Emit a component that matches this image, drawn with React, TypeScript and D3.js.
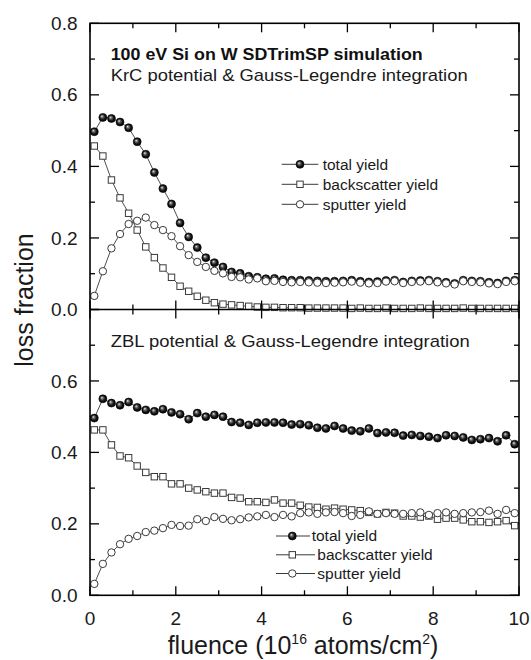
import React from "react";
import * as d3 from "d3";

// Fluence grid (10^16 atoms/cm^2)
const FLUENCE = [
  0.1, 0.3, 0.5, 0.7, 0.9, 1.1, 1.3, 1.5, 1.7, 1.9,
  2.1, 2.3, 2.5, 2.7, 2.9, 3.1, 3.3, 3.5, 3.7, 3.9,
  4.1, 4.3, 4.5, 4.7, 4.9, 5.1, 5.3, 5.5, 5.7, 5.9,
  6.1, 6.3, 6.5, 6.7, 6.9, 7.1, 7.3, 7.5, 7.7, 7.9,
  8.1, 8.3, 8.5, 8.7, 8.9, 9.1, 9.3, 9.5, 9.7, 9.9,
];

// KrC potential
const KRC_TOTAL = [
  0.497, 0.537, 0.534, 0.524, 0.508, 0.469, 0.434, 0.383, 0.338, 0.295,
  0.242, 0.203, 0.173, 0.145, 0.131, 0.119, 0.105, 0.101, 0.093, 0.090,
  0.086, 0.087, 0.083, 0.082, 0.082, 0.081, 0.080, 0.079, 0.079, 0.080,
  0.082, 0.079, 0.077, 0.078, 0.081, 0.082, 0.077, 0.080, 0.081, 0.082,
  0.079, 0.076, 0.073, 0.082, 0.080, 0.079, 0.076, 0.074, 0.080, 0.082,
];
const KRC_BACK = [
  0.457, 0.429, 0.362, 0.312, 0.269, 0.222, 0.175, 0.145, 0.116, 0.090,
  0.065, 0.051, 0.037, 0.026, 0.019, 0.015, 0.013, 0.011, 0.009, 0.007,
  0.006, 0.006, 0.005, 0.005, 0.005, 0.004, 0.004, 0.004, 0.004, 0.004,
  0.003, 0.004, 0.003, 0.003, 0.004, 0.003, 0.003, 0.003, 0.004, 0.003,
  0.003, 0.003, 0.003, 0.004, 0.003, 0.003, 0.003, 0.003, 0.003, 0.003,
];
const KRC_SPUT = [
  0.038, 0.107, 0.171, 0.211, 0.239, 0.248, 0.257, 0.236, 0.222, 0.205,
  0.177, 0.152, 0.133, 0.119, 0.108, 0.101, 0.091, 0.090, 0.084, 0.087,
  0.079, 0.080, 0.077, 0.076, 0.077, 0.076, 0.075, 0.074, 0.075, 0.076,
  0.078, 0.075, 0.073, 0.074, 0.078, 0.079, 0.074, 0.077, 0.078, 0.079,
  0.076, 0.073, 0.070, 0.079, 0.077, 0.076, 0.073, 0.071, 0.077, 0.079,
];

// ZBL potential
const ZBL_TOTAL = [
  0.496, 0.550, 0.538, 0.532, 0.541, 0.526, 0.519, 0.515, 0.521, 0.512,
  0.507, 0.493, 0.510, 0.500, 0.505, 0.500, 0.485, 0.483, 0.477, 0.483,
  0.484, 0.484, 0.483, 0.478, 0.479, 0.476, 0.469, 0.467, 0.474, 0.467,
  0.461, 0.459, 0.467, 0.454, 0.456, 0.455, 0.447, 0.449, 0.446, 0.444,
  0.440, 0.448, 0.446, 0.442, 0.435, 0.437, 0.440, 0.431, 0.448, 0.423,
];
const ZBL_BACK = [
  0.463, 0.463, 0.421, 0.390, 0.385, 0.362, 0.344, 0.332, 0.332, 0.312,
  0.312, 0.300, 0.295, 0.290, 0.286, 0.286, 0.274, 0.272, 0.262, 0.262,
  0.260, 0.267, 0.258, 0.258, 0.252, 0.247, 0.246, 0.241, 0.244, 0.241,
  0.239, 0.237, 0.232, 0.228, 0.232, 0.230, 0.222, 0.222, 0.219, 0.222,
  0.213, 0.216, 0.216, 0.211, 0.206, 0.206, 0.204, 0.206, 0.209, 0.195,
];
const ZBL_SPUT = [
  0.032, 0.088, 0.120, 0.143, 0.158, 0.166, 0.177, 0.181, 0.188, 0.197,
  0.194, 0.195, 0.213, 0.208, 0.219, 0.214, 0.210, 0.213, 0.218, 0.221,
  0.225, 0.219, 0.225, 0.221, 0.230, 0.232, 0.228, 0.232, 0.233, 0.230,
  0.222, 0.225, 0.235, 0.228, 0.230, 0.228, 0.228, 0.230, 0.232, 0.225,
  0.230, 0.232, 0.228, 0.230, 0.232, 0.233, 0.237, 0.228, 0.239, 0.230,
];

const X_TICKS = [0, 2, 4, 6, 8, 10];
const X_MINOR = [1, 3, 5, 7, 9];
const Y_TICKS_TOP = [0, 0.2, 0.4, 0.6, 0.8];
const Y_TICKS_BOTTOM = [0, 0.2, 0.4, 0.6];
const Y_MINOR = [0.1, 0.3, 0.5, 0.7];
const Y_MAJOR_ALL = [0, 0.2, 0.4, 0.6, 0.8];

const SERIES_NAMES = ["total yield", "backscatter yield", "sputter yield"];

const W = 531;
const H = 660;
const LEFT = 90;
const RIGHT = 519;
const TOP = 23.3;
const MID = 309.5;
const BOTTOM = 595.3;

const FONT = "'Liberation Sans', Arial, Helvetica, sans-serif";
const LINE = "#3a3a3a";
const MAJ = 9;
const MIN = 5;

const x = d3.scaleLinear().domain([0, 10]).range([LEFT, RIGHT]);
const yTop = d3.scaleLinear().domain([0, 0.8]).range([MID, TOP]);
const yBot = d3.scaleLinear().domain([0, 0.8]).range([BOTTOM, MID]);

type Kind = "ball" | "square" | "circle";

function Marker({ kind, cx, cy }: { kind: Kind; cx: number; cy: number }) {
  if (kind === "ball")
    return <circle cx={cx} cy={cy} r={4} fill="url(#ball)" stroke="#000" strokeWidth={0.6} />;
  if (kind === "square")
    return (
      <rect x={cx - 3.2} y={cy - 3.2} width={6.4} height={6.4} fill="#fff" stroke={LINE} strokeWidth={1} />
    );
  return <circle cx={cx} cy={cy} r={3.7} fill="#fff" stroke={LINE} strokeWidth={1} />;
}

function Series({ values, y, kind }: { values: number[]; y: d3.ScaleLinear<number, number>; kind: Kind }) {
  const pts: [number, number][] = values.map((v, i) => [x(FLUENCE[i]), y(v)]);
  const path = d3.line()(pts) ?? "";
  return (
    <g>
      <path d={path} fill="none" stroke={LINE} strokeWidth={0.9} />
      {pts.map(([px, py], i) => (
        <Marker key={i} kind={kind} cx={px} cy={py} />
      ))}
    </g>
  );
}

function Panel({
  y,
  top,
  bottom,
  labels,
  series,
}: {
  y: d3.ScaleLinear<number, number>;
  top: number;
  bottom: number;
  labels: number[];
  series: { values: number[]; kind: Kind }[];
}) {
  return (
    <g>
      {/* x ticks on top and bottom edges, pointing inward */}
      {X_TICKS.map((t) => (
        <g key={"xm" + t}>
          <line x1={x(t)} x2={x(t)} y1={bottom} y2={bottom - MAJ} stroke="#000" strokeWidth={1.3} />
          <line x1={x(t)} x2={x(t)} y1={top} y2={top + MAJ} stroke="#000" strokeWidth={1.3} />
        </g>
      ))}
      {X_MINOR.map((t) => (
        <g key={"xn" + t}>
          <line x1={x(t)} x2={x(t)} y1={bottom} y2={bottom - MIN} stroke="#000" strokeWidth={1.3} />
          <line x1={x(t)} x2={x(t)} y1={top} y2={top + MIN} stroke="#000" strokeWidth={1.3} />
        </g>
      ))}
      {/* y ticks on left and right edges */}
      {Y_MAJOR_ALL.map((t) => (
        <g key={"ym" + t}>
          <line x1={LEFT} x2={LEFT + MAJ} y1={y(t)} y2={y(t)} stroke="#000" strokeWidth={1.3} />
          <line x1={RIGHT} x2={RIGHT - MAJ} y1={y(t)} y2={y(t)} stroke="#000" strokeWidth={1.3} />
        </g>
      ))}
      {Y_MINOR.map((t) => (
        <g key={"yn" + t}>
          <line x1={LEFT} x2={LEFT + MIN} y1={y(t)} y2={y(t)} stroke="#000" strokeWidth={1.3} />
          <line x1={RIGHT} x2={RIGHT - MIN} y1={y(t)} y2={y(t)} stroke="#000" strokeWidth={1.3} />
        </g>
      ))}
      {labels.map((t) => (
        <text
          key={"yl" + t}
          x={77.5}
          y={y(t) + 6.6}
          textAnchor="end"
          fontSize={19}
          fontFamily={FONT}
          fill="#1a1a1a"
        >
          {t.toFixed(1)}
        </text>
      ))}
      {series.map((s, i) => (
        <Series key={i} values={s.values} y={y} kind={s.kind} />
      ))}
    </g>
  );
}

function Legend({
  cy,
  lineL,
  mark,
  lineR,
  textX,
}: {
  cy: number[];
  lineL: number;
  mark: number;
  lineR: number[];
  textX: number[];
}) {
  const kinds: Kind[] = ["ball", "square", "circle"];
  return (
    <g>
      {SERIES_NAMES.map((name, i) => (
        <g key={name}>
          <line x1={lineL} x2={lineR[i]} y1={cy[i]} y2={cy[i]} stroke={LINE} strokeWidth={1} />
          <Marker kind={kinds[i]} cx={mark} cy={cy[i]} />
          <text x={textX[i]} y={cy[i] + 5.4} fontSize={15.5} fontFamily={FONT} fill="#1a1a1a">
            {name}
          </text>
        </g>
      ))}
    </g>
  );
}

export default function App() {
  return (
    <svg
      width={W}
      height={H}
      viewBox={`0 0 ${W} ${H}`}
      style={{ position: "absolute", left: 0, top: 0, background: "#fff" }}
    >
      <defs>
        <radialGradient id="ball" cx="0.5" cy="0.5" r="0.55" fx="0.36" fy="0.34">
          <stop offset="0" stopColor="#f2f2f2" />
          <stop offset="0.28" stopColor="#6a6a6a" />
          <stop offset="0.62" stopColor="#151515" />
          <stop offset="1" stopColor="#000" />
        </radialGradient>
      </defs>
      <rect width={W} height={H} fill="#fff" />

      <Panel
        y={yTop}
        top={TOP}
        bottom={MID}
        labels={Y_TICKS_TOP}
        series={[
          { values: KRC_TOTAL, kind: "ball" },
          { values: KRC_BACK, kind: "square" },
          { values: KRC_SPUT, kind: "circle" },
        ]}
      />
      <Panel
        y={yBot}
        top={MID}
        bottom={BOTTOM}
        labels={Y_TICKS_BOTTOM}
        series={[
          { values: ZBL_TOTAL, kind: "ball" },
          { values: ZBL_BACK, kind: "square" },
          { values: ZBL_SPUT, kind: "circle" },
        ]}
      />

      {/* frame */}
      <rect x={LEFT} y={TOP} width={RIGHT - LEFT} height={BOTTOM - TOP} fill="none" stroke="#000" strokeWidth={1.6} />
      <line x1={LEFT} x2={RIGHT} y1={MID} y2={MID} stroke="#000" strokeWidth={1.6} />

      {/* x tick labels */}
      {X_TICKS.map((t) => (
        <text key={t} x={x(t)} y={625} textAnchor="middle" fontSize={19} fontFamily={FONT} fill="#1a1a1a">
          {t}
        </text>
      ))}

      {/* annotations */}
      <text x={110.7} y={59.7} fontSize={17} fontWeight="bold" fontFamily={FONT} fill="#111" textLength={312} lengthAdjust="spacingAndGlyphs">
        100 eV Si on W SDTrimSP simulation
      </text>
      <text x={110.7} y={81.3} fontSize={17} fontFamily={FONT} fill="#1a1a1a" textLength={357} lengthAdjust="spacingAndGlyphs">
        KrC potential &amp; Gauss-Legendre integration
      </text>
      <text x={110.7} y={346.5} fontSize={17} fontFamily={FONT} fill="#1a1a1a" textLength={359} lengthAdjust="spacingAndGlyphs">
        ZBL potential &amp; Gauss-Legendre integration
      </text>

      <Legend
        cy={[164.3, 184.3, 204.3]}
        lineL={281.7}
        mark={300}
        lineR={[318.3, 318.3, 318.3]}
        textX={[322.7, 322.7, 322.7]}
      />
      <Legend
        cy={[536, 554.8, 573.5]}
        lineL={276}
        mark={292.3}
        lineR={[310, 315, 315]}
        textX={[311.7, 317.3, 317.3]}
      />

      {/* axis titles */}
      <text
        transform={`translate(33, 300) rotate(-90)`}
        textAnchor="middle"
        fontSize={25}
        fontFamily={FONT}
        fill="#1a1a1a"
      >
        loss fraction
      </text>
      <text x={303} y={654} textAnchor="middle" fontSize={25} fontFamily={FONT} fill="#1a1a1a">
        fluence (10
        <tspan dy={-10} fontSize={14}>16</tspan>
        <tspan dy={10}> atoms/cm</tspan>
        <tspan dy={-10} fontSize={14}>2</tspan>
        <tspan dy={10}>)</tspan>
      </text>
    </svg>
  );
}
